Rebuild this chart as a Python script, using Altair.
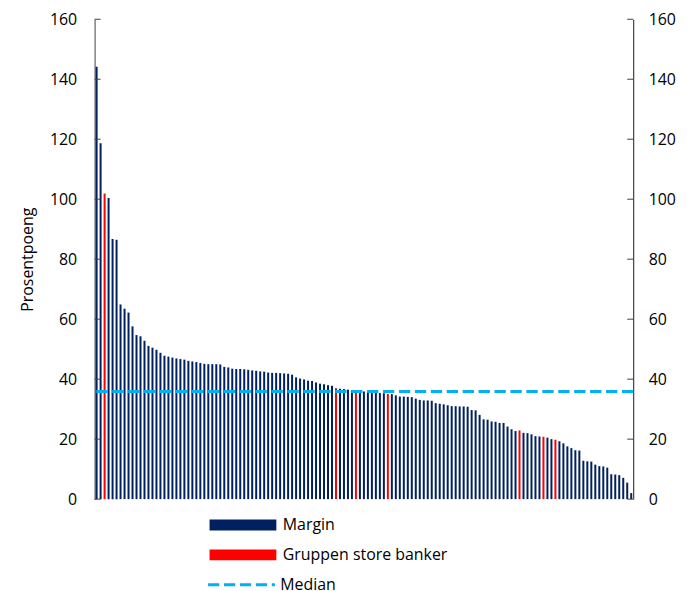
import altair as alt
import pandas as pd

# Bar values (percentage points), sorted as in the reference
values = [
    144.2, 118.7, 101.9, 100.4, 86.7, 86.5, 64.9, 63.5, 62.2, 57.6,
    54.7, 54.3, 52.8, 51.1, 50.5, 49.8, 48.8, 47.8, 47.5, 47.2,
    46.9, 46.7, 46.5, 46.1, 45.9, 45.7, 45.4, 45.1, 45.0, 45.0,
    45.0, 44.9, 44.1, 43.9, 43.5, 43.4, 43.4, 43.3, 43.1, 42.9,
    42.8, 42.6, 42.5, 42.2, 42.1, 42.1, 42.0, 41.9, 41.8, 41.5,
    40.6, 40.2, 39.9, 39.5, 39.4, 38.9, 38.5, 38.3, 38.0, 37.8,
    37.0, 36.8, 36.7, 36.5, 36.3, 36.0, 36.0, 35.9, 35.8, 35.7,
    35.6, 35.4, 35.3, 35.1, 35.0, 34.6, 34.2, 34.2, 34.1, 34.0,
    33.5, 33.1, 32.9, 32.9, 32.8, 32.0, 31.8, 31.6, 31.3, 31.0,
    31.0, 30.9, 30.9, 30.8, 29.7, 29.6, 28.1, 26.6, 26.5, 25.9,
    25.8, 25.4, 25.4, 24.2, 23.3, 22.7, 22.9, 22.1, 22.0, 21.6,
    21.0, 20.9, 20.8, 20.5, 20.0, 19.8, 19.3, 18.6, 17.6, 17.0,
    16.3, 16.2, 12.8, 12.6, 12.5, 11.5, 11.0, 10.9, 10.5, 8.3,
    8.2, 8.0, 7.1, 5.5, 2.0,
]
# 1-based positions of the bars belonging to the large-bank group
group_positions = [3, 61, 66, 74, 107, 113, 116]
series_names = ["Margin", "Gruppen store banker"]
series_colors = ["#002060", "#FF0000"]
median_name = "Median"
y_ticks = [0, 20, 40, 60, 80, 100, 120, 140, 160]

n = len(values)
df = pd.DataFrame({
    "rank": list(range(1, n + 1)),
    "value": values,
    "serie": [series_names[1] if i in group_positions else series_names[0] for i in range(1, n + 1)],
})
median_value = float(pd.Series(values).median())
med_df = pd.DataFrame({"value": [median_value], "serie": [median_name]})
tick_df = pd.DataFrame({"v": y_ticks})

W, H = 541, 482
FONT = "Open Sans"
FS = 16


def yscale():
    return alt.Scale(domain=[0, 160], nice=False, zero=True)


# legend symbols: nominal size 11px, path stretched to 67px wide
rect_path = "M-6.1,-1L6.1,-1L6.1,1L-6.1,1Z"
dash_path = "M-6.1,0L6.1,0"

bars = alt.Chart(df).mark_bar().encode(
    x=alt.X("rank:O", axis=None, sort=None,
            scale=alt.Scale(paddingInner=0.5, paddingOuter=0.25)),
    y=alt.Y("value:Q", scale=yscale(),
            axis=alt.Axis(values=y_ticks, title="Prosentpoeng", ticks=False,
                          grid=False, labelPadding=18, titlePadding=14,
                          domainColor="#808080", domainWidth=1.5,
                          labelFont=FONT, labelFontSize=FS, labelColor="#000000",
                          titleFont=FONT, titleFontSize=FS, titleFontWeight="normal",
                          titleColor="#000000")),
    color=alt.Color("serie:N",
                    scale=alt.Scale(domain=series_names, range=series_colors),
                    legend=alt.Legend(title=None, orient="none", legendX=113, legendY=500,
                                      direction="vertical", symbolType=rect_path,
                                      symbolSize=121, symbolStrokeWidth=0,
                                      symbolOffset=28, labelLimit=400,
                                      labelFont=FONT, labelFontSize=FS, labelColor="#000000",
                                      labelOffset=32, rowPadding=14, padding=0)),
)

median = alt.Chart(med_df).mark_rule(color="#00B0F0", strokeWidth=3).encode(
    y=alt.Y("value:Q", scale=yscale(),
            axis=alt.Axis(values=y_ticks, title=None, orient="right", ticks=False,
                          grid=False, labelPadding=15, domainColor="#1a1a1a",
                          labelFont=FONT, labelFontSize=FS, labelColor="#000000")),
    strokeDash=alt.StrokeDash("serie:N",
                              scale=alt.Scale(domain=[median_name], range=[[11.3, 4.7]]),
                              legend=alt.Legend(title=None, orient="none", legendX=113,
                                                legendY=560, symbolType=dash_path,
                                                symbolSize=121,
                                                symbolStrokeColor="#00B0F0",
                                                symbolFillColor="transparent",
                                                symbolStrokeWidth=3,
                                                symbolOffset=26.5, labelLimit=400,
                                                labelFont=FONT, labelFontSize=FS,
                                                labelColor="#000000", labelOffset=31,
                                                padding=0)),
)

left_ticks = alt.Chart(tick_df).mark_rule(color="#404040", strokeWidth=1).encode(
    y=alt.Y("v:Q", scale=yscale(), axis=None),
    x=alt.value(0), x2=alt.value(6),
)
right_ticks = alt.Chart(tick_df).mark_rule(color="#404040", strokeWidth=1).encode(
    y=alt.Y("v:Q", scale=yscale(), axis=None),
    x=alt.value(W - 6), x2=alt.value(W),
)

chart = alt.layer(bars, median, left_ticks, right_ticks).resolve_scale(
    y="independent", color="independent", strokeDash="independent"
).properties(
    width=W, height=H, padding={"left": 11, "top": 2, "right": 5, "bottom": 5}
).configure_view(stroke=None)

chart.save("out.html", embed_options={"renderer": "svg", "actions": False})
